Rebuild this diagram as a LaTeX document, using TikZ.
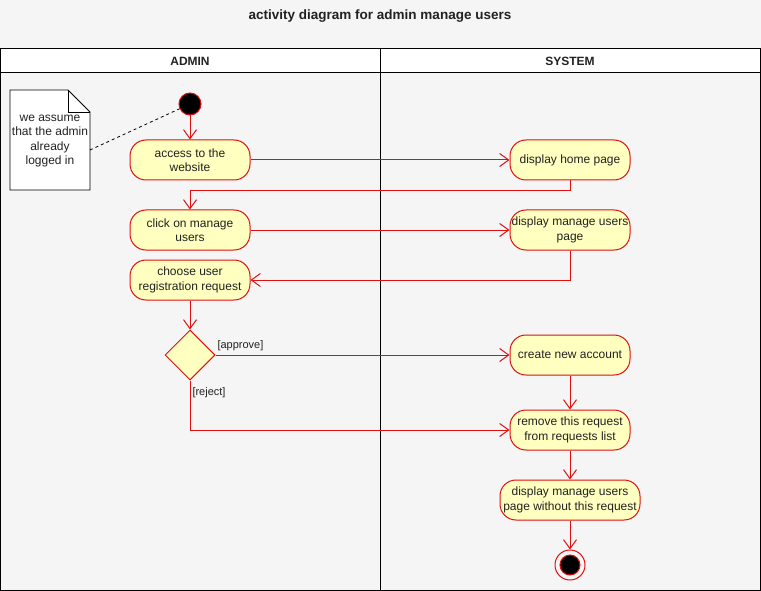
\documentclass[tikz,border=0pt]{standalone}
\usepackage{fontspec}
\setmainfont{Liberation Sans}
\usetikzlibrary{shapes.geometric,arrows.meta}
\definecolor{bgcol}{HTML}{F5F5F5}
\definecolor{actfill}{HTML}{FFFFC0}
\definecolor{actline}{HTML}{E01010}
\definecolor{txtcol}{HTML}{222222}
\begin{document}
\begin{tikzpicture}[x=10pt, y=-10pt, line width=1pt, text=txtcol,
    action/.style={draw=actline, fill=actfill, rounded corners=16pt, minimum width=120pt,
                   minimum height=40pt, align=center, inner sep=1pt,
                   font=\fontsize{12}{14.5}\selectfont},
    decision/.style={draw=actline, fill=actfill, diamond, minimum width=50pt,
                     minimum height=50pt, inner sep=0pt},
    initial/.style={draw=actline, fill=black, circle, minimum size=22pt, inner sep=0pt},
    flow/.style={draw=actline, -{Straight Barb[length=9pt,width=13pt]}},
    guard/.style={anchor=west, inner sep=1pt, font=\fontsize{11}{13}\selectfont}]
    \useasboundingbox[fill=bgcol] (0,0) rectangle (76.1,59.1);
    % title and swimlanes
    \node at (38,1.6) {\fontsize{13.5}{15}\selectfont\bfseries activity diagram for admin manage users};
    \draw[fill=white] (0.05,4.9) rectangle (76,7.3);
    \draw (0.05,4.9) rectangle (76,59);
    \draw (38,4.9) -- (38,59);
    \node at (19,6.1) {\fontsize{12}{14}\selectfont\bfseries ADMIN};
    \node at (57,6.1) {\fontsize{12}{14}\selectfont\bfseries SYSTEM};
    % note
    \draw[fill=white, line width=0.8pt] (1,9) -- (6.8,9) -- (9,11.2) -- (9,19) -- (1,19) -- cycle;
    \draw[line width=0.8pt] (6.8,9) -- (6.8,11.2) -- (9,11.2);
    \node[minimum width=80pt, minimum height=100pt, inner sep=0pt, align=center,
          font=\fontsize{12}{14.5}\selectfont] (note) at (5,14.1)
          {we assume\\that the admin\\already\\logged in};
    \coordinate (notepin) at (9,15);
    % admin lane
    \node[initial] (start) at (19,10.4) {};
    \node[action] (access) at (19,16) {access to the\\website};
    \node[action] (click) at (19,23) {click on manage\\users};
    \node[action] (choose) at (19,28) {choose user\\registration request};
    \node[decision] (dec) at (19,35.5) {};
    % system lane
    \node[action] (home) at (57,16) {display home page};
    \node[action] (dmanage) at (57,23) {display manage users\\page};
    \node[action] (create) at (57,35.5) {create new account};
    \node[action] (remove) at (57,43) {remove this request\\from requests list};
    \node[action, minimum width=140pt] (dfinal) at (57,50) {display manage users\\page without this request};
    \node[draw=actline, circle, minimum size=30pt, inner sep=0pt] (end) at (57,56.5) {};
    \node[initial, minimum size=20pt] (endin) at (end) {};
    % connectors
    \draw[dashed, line width=0.8pt] (notepin) -- (start);
    \draw[flow] (start) -- (access);
    \draw[flow] (access) -- (home);
    \draw[flow] (home.south) -- ++(0,1) -| (click.north);
    \draw[flow] (click) -- (dmanage);
    \draw[flow] (dmanage.south) |- (choose.east);
    \draw[flow] (choose) -- (dec);
    \draw[flow] (dec.east) -- (create.west);
    \node[guard] at (21.6,34.6) {[approve]};
    \draw[flow] (dec.south) |- (remove.west);
    \node[guard] at (19.1,39.3) {[reject]};
    \draw[flow] (create) -- (remove);
    \draw[flow] (remove) -- (dfinal);
    \draw[flow] (dfinal) -- (end);
\end{tikzpicture}
\end{document}
